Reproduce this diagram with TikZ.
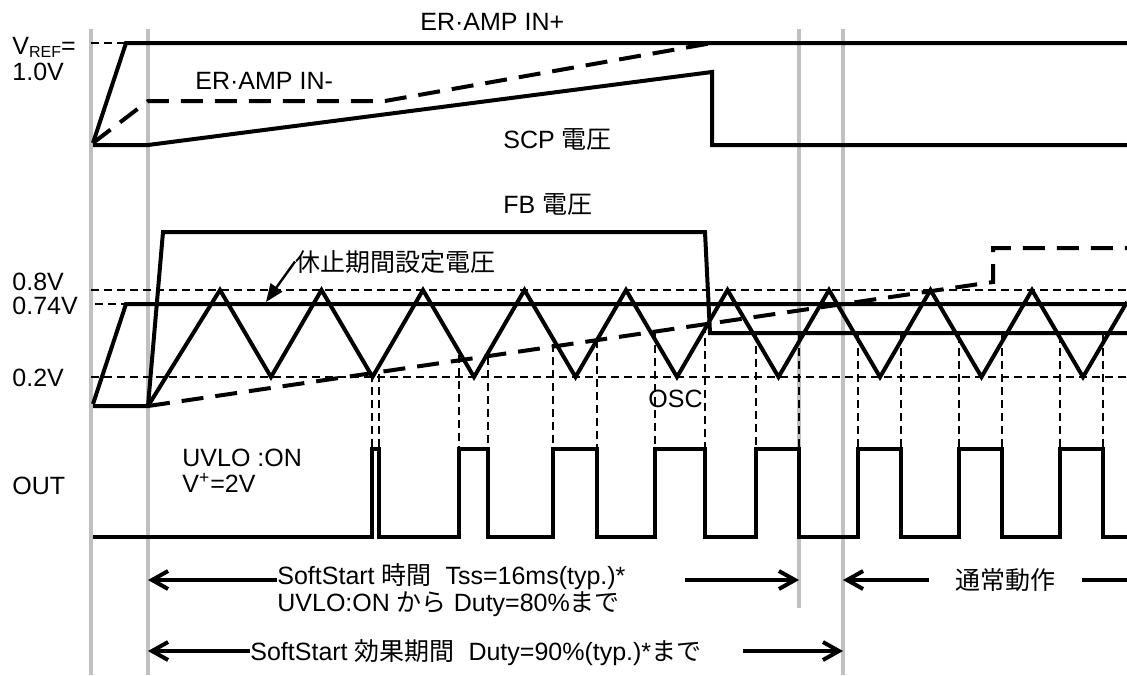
\documentclass[tikz,border=0pt]{standalone}
\usepackage{fontspec}
\setmainfont{Liberation Sans}
\newfontfamily\jp{Noto Sans CJK JP}
\usepackage{tikz}
\usetikzlibrary{arrows.meta}
\definecolor{tc-guide}{HTML}{C0C0C0}
\definecolor{tc-ink}{HTML}{000000}

\begin{document}
\begin{tikzpicture}[x=0.5pt,y=-0.5pt,
    guide/.style={draw=tc-guide,line width=2pt},
    wave/.style={draw=tc-ink,line width=2pt},
    bias/.style={wave,dash pattern=on 11pt off 6pt},
    level/.style={draw=tc-ink,line width=0.75pt,dash pattern=on 4pt off 2.5pt},
    barb/.style={wave,-{Straight Barb[length=8pt,width=9pt]}},
    lbl/.style={inner sep=0pt,anchor=base west,font=\fontsize{12.5pt}{14.5pt}\selectfont}]
      \useasboundingbox (0,0) rectangle (1127,675);
      % time markers
      \draw[guide] (91,29) -- (91,675);
      \draw[guide] (148,29) -- (148,675);
      \draw[guide] (799,29) -- (799,608);
      \draw[guide] (843,29) -- (843,675);
      % reference levels
      \draw[level] (91,43) -- (126,43);
      \draw[level] (91,290) -- (1127,290);
      \draw[level] (95,304) -- (126,304);
      \draw[level] (91,377) -- (1127,377);
      \foreach \x/\t in {372/374,379/374,459/355,488/357,553/344,597/340,655/332,705/325,
                         756/333,799/335,858/335,901/335,959/335,1002/335,1060/335,1103/335}
        \draw[level] (\x,\t) -- (\x,449);
      % ER-AMP inputs and SCP
      \draw[wave] (93,143) -- (126,43) -- (1127,43);
      \draw[bias] (93,143) -- (148,101) -- (385,101) -- (712,43);
      \draw[wave] (93,145) -- (148,145) -- (712,72) -- (712,145) -- (1127,145);
      % FB, dead time level, OSC
      \draw[wave] (93,404) -- (126,304) -- (1127,304);
      \draw[wave] (93,406) -- (148,406) -- (163,232) -- (705,232) -- (710,333) -- (1127,333);
      \draw[bias] (148,406) -- (993,282) -- (993,248) -- (1127,248);
      \draw[wave] (148,406) \foreach \k in {0,...,8}{ -- ({220+101.5*\k},290) -- ({271+101.5*\k},377)} -- (1127,302);
      % OUT
      \draw[wave] (93,537) \foreach \a/\b in {372/379,459/488,553/597,655/705,756/799,858/901,959/1002,1060/1103}{
        -- (\a,537) -- (\a,449) -- (\b,449) -- (\b,537)} -- (1127,537);
      % labels
      \node[lbl] (vref) at (12,54) {V\raisebox{-1.5pt}{\fontsize{8pt}{9pt}\selectfont REF}=};
      \node[lbl] (vnum) at (12,80) {1.0V};
      \node[lbl] (inp) at (420,30) {ER·AMP IN+};
      \node[lbl] (inm) at (195,89) {ER·AMP IN-};
      \node[lbl] (scp) at (503,148) {SCP {\jp 電圧}};
      \node[lbl] (fb) at (503,213) {FB {\jp 電圧}};
      \node[lbl] (rest) at (295,271) {\jp 休止期間設定電圧};
      \node[lbl] (v08) at (12,290) {0.8V};
      \node[lbl] (v074) at (12,314) {0.74V};
      \node[lbl] (v02) at (12,386) {0.2V};
      \node[lbl] (osc) at (648,407) {OSC};
      \node[lbl] (out) at (12,494) {OUT};
      \node[lbl] (uvlo) at (182,466) {UVLO :ON};
      \node[lbl] (vplus) at (182,492) {V\textsuperscript{+}=2V};
      \node[lbl] (tss) at (277,584) {SoftStart {\jp 時間}\ \ Tss=16ms(typ.)*};
      \node[lbl] (duty80) at (277,611) {UVLO:ON {\jp から} Duty=80\%{\jp まで}};
      \node[lbl] (norm) at (955,589) {\jp 通常動作};
      \node[lbl] (effect) at (250,660) {SoftStart {\jp 効果期間}\ \ Duty=90\%(typ.)*{\jp まで}};
      % pointer to dead time level
      \coordinate (restTip) at (266,302);
      \draw[draw=tc-ink,line width=1.2pt,-{Triangle[length=9pt,width=7pt]}] (rest.west) -- (restTip);
      % period arrows
      \coordinate (tssL) at (148,580);
      \coordinate (tssM) at (277,580);
      \coordinate (tssN) at (685,580);
      \coordinate (tssR) at (799,580);
      \draw[barb] (tssM) -- (tssL);
      \draw[barb] (tssN) -- (tssR);
      \coordinate (normL) at (843,580);
      \coordinate (normM) at (929,580);
      \coordinate (normN) at (1082,580);
      \coordinate (normR) at (1127,580);
      \draw[barb] (normM) -- (normL);
      \draw[wave] (normN) -- (normR);
      \coordinate (effL) at (148,651);
      \coordinate (effM) at (250,651);
      \coordinate (effN) at (743,651);
      \coordinate (effR) at (843,651);
      \draw[barb] (effM) -- (effL);
      \draw[barb] (effN) -- (effR);
    \end{tikzpicture}
\end{document}
